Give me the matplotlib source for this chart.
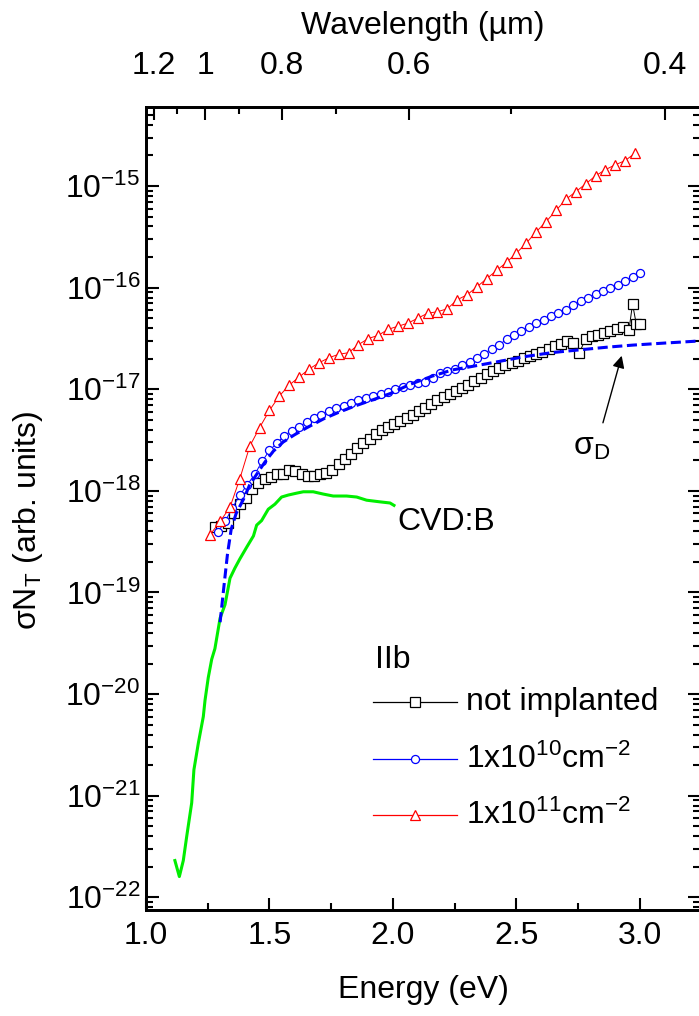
import numpy as np
import matplotlib
matplotlib.use('Agg')
import matplotlib.pyplot as plt
from matplotlib.ticker import FixedLocator, NullFormatter, MultipleLocator, LogFormatterSciNotation

plt.rcParams['font.family'] = 'Liberation Sans'
plt.rcParams['mathtext.fontset'] = 'custom'
plt.rcParams['mathtext.rm'] = 'Liberation Sans'
plt.rcParams['mathtext.it'] = 'Liberation Sans:italic'
plt.rcParams['mathtext.bf'] = 'Liberation Sans:bold'
plt.rcParams['mathtext.sf'] = 'Liberation Sans'
FS = 23

# IIb, not implanted
e_ref = [1.280, 1.305, 1.330, 1.355, 1.380, 1.405, 1.430, 1.455, 1.480, 1.505,
         1.530, 1.555, 1.580, 1.605, 1.630, 1.655, 1.680, 1.705, 1.730, 1.755,
         1.780, 1.805, 1.830, 1.855, 1.880, 1.905, 1.930, 1.955, 1.980, 2.005,
         2.030, 2.055, 2.080, 2.105, 2.130, 2.155, 2.180, 2.205, 2.230, 2.255,
         2.280, 2.305, 2.330, 2.355, 2.380, 2.405, 2.430, 2.455, 2.480, 2.505,
         2.530, 2.555, 2.580, 2.605, 2.630, 2.655, 2.680, 2.705, 2.730, 2.755,
         2.780, 2.805, 2.830, 2.855, 2.880, 2.905, 2.930, 2.955, 2.970, 2.985,
         3.000]
s_ref = [4.4e-19, 4.5e-19, 4.8e-19, 6.0e-19, 7.4e-19, 8.5e-19, 1.05e-18, 1.2e-18, 1.32e-18, 1.38e-18,
         1.45e-18, 1.48e-18, 1.62e-18, 1.58e-18, 1.45e-18, 1.41e-18, 1.41e-18, 1.45e-18, 1.51e-18, 1.62e-18,
         1.82e-18, 2.04e-18, 2.29e-18, 2.63e-18, 2.95e-18, 3.24e-18, 3.63e-18, 3.98e-18, 4.27e-18, 4.57e-18,
         4.9e-18, 5.25e-18, 5.62e-18, 6.1e-18, 6.6e-18, 7.16e-18, 7.85e-18, 8.3e-18, 8.9e-18, 9.55e-18,
         1.02e-17, 1.1e-17, 1.2e-17, 1.29e-17, 1.4e-17, 1.51e-17, 1.62e-17, 1.72e-17, 1.82e-17, 1.9e-17,
         2.02e-17, 2.14e-17, 2.24e-17, 2.34e-17, 2.51e-17, 2.66e-17, 2.82e-17, 3.02e-17, 2.88e-17, 2.29e-17,
         3.16e-17, 3.31e-17, 3.43e-17, 3.55e-17, 3.72e-17, 3.89e-17, 4.07e-17, 3.8e-17, 6.9e-17, 4.37e-17,
         4.37e-17]

# 1x10^10 cm^-2
e_lo = [1.29, 1.32, 1.35, 1.38, 1.41, 1.44, 1.47, 1.50, 1.53, 1.56,
        1.59, 1.62, 1.65, 1.68, 1.71, 1.74, 1.77, 1.80, 1.83, 1.86,
        1.89, 1.92, 1.95, 1.98, 2.01, 2.04, 2.07, 2.10, 2.13, 2.16,
        2.19, 2.22, 2.25, 2.28, 2.31, 2.34, 2.37, 2.40, 2.43, 2.46,
        2.49, 2.52, 2.55, 2.58, 2.61, 2.64, 2.67, 2.70, 2.73, 2.76,
        2.79, 2.82, 2.85, 2.88, 2.91, 2.94, 2.97, 3.00]
s_lo = [3.9e-19, 5.0e-19, 6.8e-19, 9.1e-19, 1.15e-18, 1.45e-18, 1.95e-18, 2.5e-18, 2.95e-18, 3.5e-18,
        3.89e-18, 4.27e-18, 4.79e-18, 5.19e-18, 5.62e-18, 6.1e-18, 6.6e-18, 6.9e-18, 7.4e-18, 7.8e-18,
        8.2e-18, 8.6e-18, 9.0e-18, 9.5e-18, 1.0e-17, 1.05e-17, 1.11e-17, 1.15e-17, 1.19e-17, 1.29e-17,
        1.43e-17, 1.53e-17, 1.6e-17, 1.72e-17, 1.84e-17, 2.02e-17, 2.24e-17, 2.51e-17, 2.75e-17, 3.09e-17,
        3.39e-17, 3.72e-17, 4.12e-17, 4.47e-17, 4.84e-17, 5.25e-17, 5.62e-17, 6.03e-17, 6.68e-17, 7.33e-17,
        7.94e-17, 8.7e-17, 9.33e-17, 9.9e-17, 1.07e-16, 1.16e-16, 1.27e-16, 1.38e-16]

# 1x10^11 cm^-2
e_hi = [1.26, 1.30, 1.34, 1.38, 1.42, 1.46, 1.50, 1.54, 1.58, 1.62,
        1.66, 1.70, 1.74, 1.78, 1.82, 1.86, 1.90, 1.94, 1.98, 2.02,
        2.06, 2.10, 2.14, 2.18, 2.22, 2.26, 2.30, 2.34, 2.38, 2.42,
        2.46, 2.50, 2.54, 2.58, 2.62, 2.66, 2.70, 2.74, 2.78, 2.82,
        2.86, 2.90, 2.94, 2.98]
s_hi = [3.72e-19, 5.0e-19, 6.9e-19, 1.32e-18, 2.75e-18, 4.2e-18, 6.2e-18, 8.6e-18, 1.1e-17, 1.32e-17,
        1.58e-17, 1.82e-17, 2.04e-17, 2.21e-17, 2.29e-17, 2.75e-17, 3.16e-17, 3.39e-17, 3.89e-17, 4.17e-17,
        4.47e-17, 5.0e-17, 5.6e-17, 5.8e-17, 6.2e-17, 7.6e-17, 8.5e-17, 1.02e-16, 1.23e-16, 1.48e-16,
        1.78e-16, 2.19e-16, 2.75e-16, 3.55e-16, 4.47e-16, 5.75e-16, 7.4e-16, 8.8e-16, 1.05e-15, 1.26e-15,
        1.45e-15, 1.62e-15, 1.78e-15, 2.11e-15]

# sigma_D curve
e_sd = [1.300, 1.315, 1.330, 1.345, 1.365, 1.395, 1.420, 1.450, 1.480, 1.515,
        1.555, 1.600, 1.650, 1.720, 1.785, 1.850, 1.920, 1.990, 2.070, 2.160,
        2.240, 2.310, 2.420, 2.530, 2.640, 2.760, 2.870, 2.970, 3.100, 3.243]
s_sd = [5.1e-20, 1.12e-19, 2.4e-19, 4.2e-19, 6.0e-19, 8.3e-19, 1.15e-18, 1.48e-18, 1.9e-18, 2.45e-18,
        3.02e-18, 3.55e-18, 4.17e-18, 5.13e-18, 6.0e-18, 6.9e-18, 7.9e-18, 9.1e-18, 1.12e-17, 1.35e-17,
        1.55e-17, 1.66e-17, 1.86e-17, 2.09e-17, 2.29e-17, 2.45e-17, 2.6e-17, 2.72e-17, 2.85e-17, 2.99e-17]

# CVD:B
e_cvd = [1.117, 1.135, 1.151, 1.165, 1.185, 1.194, 1.212, 1.232, 1.239, 1.252,
         1.266, 1.279, 1.300, 1.320, 1.340, 1.360, 1.380, 1.408, 1.435, 1.448,
         1.468, 1.495, 1.522, 1.549, 1.576, 1.610, 1.637, 1.677, 1.718, 1.758,
         1.812, 1.853, 1.893, 1.947, 1.988, 2.004]
s_cvd = [2.3e-22, 1.6e-22, 2.3e-22, 4.0e-22, 8.5e-22, 1.8e-21, 3.3e-21, 6.0e-21, 8.7e-21, 1.45e-20,
         2.2e-20, 2.8e-20, 5.6e-20, 7.6e-20, 1.38e-19, 1.74e-19, 2.14e-19, 2.8e-19, 3.6e-19, 4.6e-19,
         5.1e-19, 6.6e-19, 7.4e-19, 8.7e-19, 9.1e-19, 9.5e-19, 9.8e-19, 9.8e-19, 9.3e-19, 8.9e-19,
         8.9e-19, 8.7e-19, 8.1e-19, 7.8e-19, 7.6e-19, 7.2e-19]

# axis ticks
y_major = [1e-22, 1e-21, 1e-20, 1e-19, 1e-18, 1e-17, 1e-16, 1e-15]
HC = 1.2398  # eV um
wl_major = [1.2, 1.0, 0.8, 0.6, 0.4]
wl_major_labels = ['1.2', '1', '0.8', '0.6', '0.4']
wl_minor = [1.1, 0.9, 0.7, 0.5]

ylo, yhi = 7.5e-23, 6.0e-15
y_minor = [m * d for d in [1e-23] + y_major for m in range(2, 10)
           if ylo <= m * d <= yhi]

fig = plt.figure(figsize=(6.99, 10.16), dpi=100)
ax = fig.add_axes([146 / 699, 106 / 1016, 554 / 699, 803 / 1016])

ax.plot(e_cvd, s_cvd, color='#00ee00', lw=2.2, zorder=2)
ax.plot(e_ref, s_ref, color='black', lw=0.7, marker='s', ms=6.5, mfc='white',
        mec='black', mew=0.9, zorder=3)
ax.plot(e_lo, s_lo, color='#0000ff', lw=0.7, marker='o', ms=5.8, mfc='white',
        mec='#0000ff', mew=0.9, zorder=4)
ax.plot(e_hi, s_hi, color='#ff0000', lw=0.7, marker='^', ms=7.2, mfc='white',
        mec='#ff0000', mew=0.9, zorder=5)
ax.plot(e_sd, s_sd, color='#0000ff', lw=2.2, ls=(0, (3.3, 1.5)), zorder=6)

ax.set_yscale('log')
ax.set_xlim(1.0, 3.243)
ax.set_ylim(ylo, yhi)

ax.xaxis.set_major_locator(MultipleLocator(0.5))
ax.xaxis.set_minor_locator(MultipleLocator(0.25))
ax.xaxis.set_major_formatter(plt.FormatStrFormatter('%.1f'))
ax.yaxis.set_major_locator(FixedLocator(y_major))
ax.yaxis.set_major_formatter(LogFormatterSciNotation())
ax.yaxis.set_minor_locator(FixedLocator(y_minor))
ax.yaxis.set_minor_formatter(NullFormatter())
ax.tick_params(which='both', direction='in', top=False, right=True, width=1.5,
               labelsize=FS)
ax.tick_params(which='major', length=9)
ax.tick_params(which='minor', length=5)
ax.tick_params(axis='x', pad=8)
ax.tick_params(axis='y', pad=4)

ax.set_xlabel('Energy (eV)', fontsize=FS, labelpad=17)
ax.set_ylabel('σN$_\\mathrm{T}$ (arb. units)', fontsize=FS)
ax.yaxis.set_label_coords(-0.183, 0.486)

ax2 = ax.twiny()
ax2.set_xlim(ax.get_xlim())
ax2.xaxis.set_major_locator(FixedLocator([HC / w for w in wl_major]))
ax2.xaxis.set_minor_locator(FixedLocator([HC / w for w in wl_minor]))
ax2.set_xticklabels(wl_major_labels)
ax2.tick_params(which='both', direction='in', width=1.5, labelsize=FS, pad=19)
ax2.tick_params(which='major', length=9)
ax2.tick_params(which='minor', length=5)
ax2.set_xlabel('Wavelength (µm)', fontsize=FS, labelpad=12)

for a in (ax, ax2):
    for sp in a.spines.values():
        sp.set_linewidth(2.0)

# labels on curves
ax.text(2.016, 10 ** -18.31, 'CVD:B', fontsize=FS, ha='left', va='center')
ax.text(2.73, 10 ** -17.57, 'σ$_\\mathrm{D}$', fontsize=FS, ha='left', va='center')
ax.annotate('', xy=(2.926, 10 ** -16.67), xytext=(2.85, 10 ** -17.33),
            arrowprops=dict(arrowstyle='-|>', color='black', lw=1.0,
                            mutation_scale=18, shrinkA=0, shrinkB=0))

# legend
ax.text(0.413, 0.311, 'IIb', transform=ax.transAxes, fontsize=FS, ha='left', va='center')
legend_rows = [('not implanted', 'black', 's', 6.5, 0.259),
               ('1x10$^{10}$cm$^{-2}$', '#0000ff', 'o', 5.8, 0.188),
               ('1x10$^{11}$cm$^{-2}$', '#ff0000', '^', 7.2, 0.118)]
for label, col, mk, size, yy in legend_rows:
    ax.plot([0.4097, 0.5614], [yy, yy], transform=ax.transAxes, color=col, lw=0.9)
    ax.plot([0.4856], [yy], transform=ax.transAxes, color=col, marker=mk, ms=size,
            mfc='white', mec=col, mew=0.9)
    ax.text(0.578, yy, label, transform=ax.transAxes, fontsize=FS, ha='left', va='center')

fig.savefig('out.png', dpi=100)
